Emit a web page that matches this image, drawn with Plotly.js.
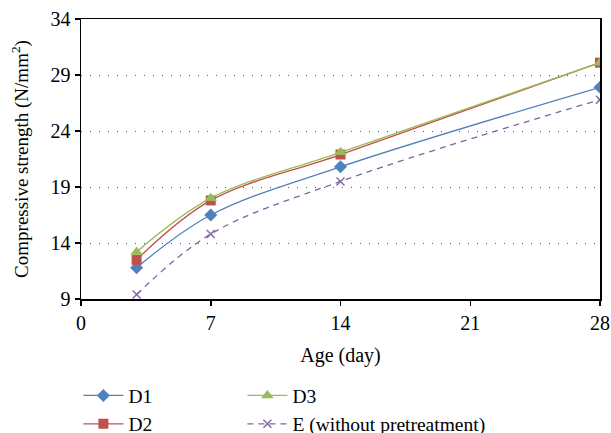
<!DOCTYPE html>
<html><head><meta charset="utf-8">
<script src="https://cdn.plot.ly/plotly-3.0.1.min.js"></script>
<style>html,body{margin:0;padding:0;background:#fff}#c{width:611px;height:433px}</style>
</head><body><div id="c"></div>
<script>
const ages = [3, 7, 14, 28];
const d1 = [11.8, 16.5, 20.8, 27.9];
const d2 = [12.5, 17.8, 21.9, 30.1];
const d3 = [13.2, 18.0, 22.1, 30.1];
const e = [9.4, 14.8, 19.5, 26.8];
const xTicks = [0, 7, 14, 21, 28];
const yTicks = [9, 14, 19, 24, 29, 34];

const fam = 'Liberation Serif, Times New Roman, DejaVu Serif, serif';
const tickFont = {family: fam, size: 20, color: '#000'};
const titleFont = {family: fam, size: 20, color: '#000'};
const legFont = {family: fam, size: 19.5, color: '#000'};
const yTitleFont = {family: fam, size: 19, color: '#000'};
function tr(name, y, color, symbol, size, leg, dash) {
  return {x: ages, y: y, name: name, type: 'scatter', mode: 'lines+markers',
    line: {color: color, width: 1.3, shape: 'spline', smoothing: 1, dash: dash || 'solid'},
    marker: {color: color, symbol: symbol, size: size, line: {color: color, width: symbol.indexOf('x') === 0 ? 1.4 : 0}},
    legend: leg};
}
const data = [
  tr('E (without pretreatment)', e, '#8064A2', 'x-thin-open', 8, 'legend2', '6px,5px'),
  tr('D1', d1, '#4F81BD', 'diamond', 10, 'legend'),
  tr('D2', d2, '#C0504D', 'square', 10, 'legend'),
  tr('D3', d3, '#9BBB59', 'triangle-up', 11, 'legend2')
];
const legBase = {orientation: 'v', xanchor: 'left', y: -0.276, yanchor: 'top',
  traceorder: 'normal', font: legFont, itemwidth: 40, tracegroupgap: 0, bgcolor: 'rgba(0,0,0,0)'};
const layout = {
  width: 611, height: 433,
  margin: {l: 81, r: 11, t: 19, b: 134, autoexpand: false},
  paper_bgcolor: '#fff', plot_bgcolor: '#fff',
  font: titleFont,
  showlegend: true,
  legend: Object.assign({}, legBase, {x: -0.005}),
  legend2: Object.assign({}, legBase, {x: 0.311, traceorder: 'reversed'}),
  xaxis: {range: [0, 28], tickvals: xTicks, ticktext: xTicks.map(String),
    showline: true, linecolor: '#000', linewidth: 1.5, mirror: true,
    ticks: 'outside', ticklen: 5, tickcolor: '#000', tickwidth: 1.5,
    showgrid: false, zeroline: false, tickfont: tickFont,
    title: {text: 'Age (day)', font: titleFont, standoff: 15}},
  yaxis: {range: [9, 34], tickvals: yTicks, ticktext: yTicks.map(String),
    showline: true, linecolor: '#000', linewidth: 1.5, mirror: true,
    ticks: 'outside', ticklen: 5, tickcolor: '#000', tickwidth: 1.5,
    showgrid: true, gridcolor: '#555', gridwidth: 1, griddash: '1px,8px',
    zeroline: false, tickfont: tickFont,
    title: {text: 'Compressive strength (N/mm<sup>2</sup>)', font: yTitleFont, standoff: 17}}
};
Plotly.newPlot('c', data, layout, {displayModeBar: false, staticPlot: true});
</script></body></html>
